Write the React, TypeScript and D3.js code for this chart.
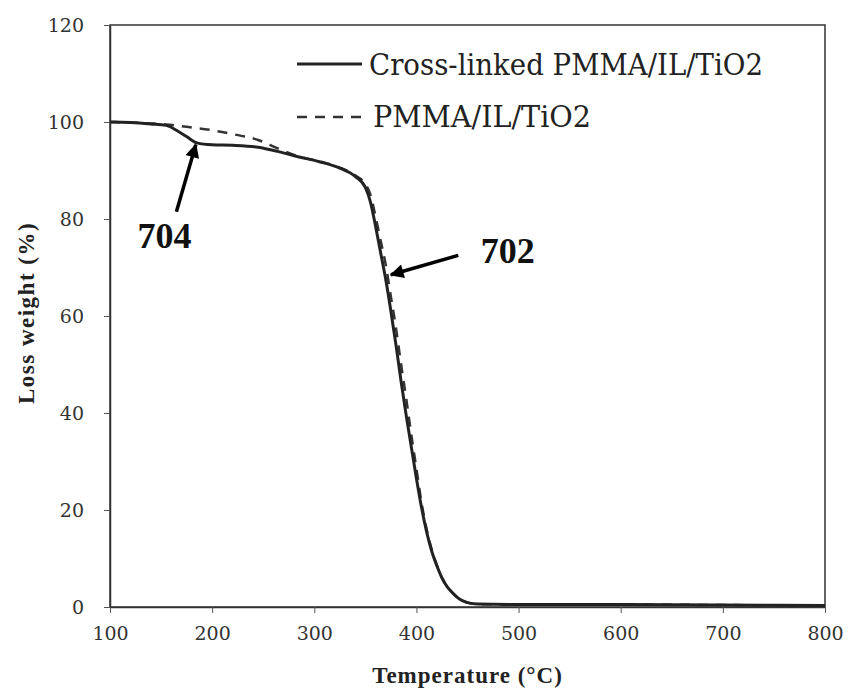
import React, { useEffect, useRef } from 'react';
import * as d3 from 'd3';

const xTicks = [100, 200, 300, 400, 500, 600, 700, 800];
const yTicks = [0, 20, 40, 60, 80, 100, 120];

// Cross-linked PMMA/IL/TiO2 (solid)
const crossTemp = [100, 120, 140, 155, 165, 175, 185, 200, 220, 245, 265, 285, 305, 325, 340, 350, 355, 360, 365, 370, 375, 380, 385, 390, 395, 400, 405, 410, 415, 420, 425, 430, 435, 440, 445, 450, 460, 500, 600, 700, 800];
const crossLoss = [100, 99.9, 99.6, 99.3, 98.3, 97, 95.7, 95.3, 95.2, 94.8, 93.9, 92.8, 91.8, 90.5, 88.8, 86.5, 83.5, 78.5, 73, 67.5, 61, 54, 46.5, 39.5, 33, 26.5, 20.5, 15.5, 11.5, 8.5, 6, 4.2, 3, 2, 1.3, 0.9, 0.6, 0.5, 0.5, 0.4, 0.3];

// PMMA/IL/TiO2 (dashed)
const plainTemp = [100, 120, 140, 155, 175, 200, 220, 245, 265, 285, 305, 325, 340, 350, 355, 360, 365, 370, 375, 380, 385, 390, 395, 400, 405, 410, 415, 420, 425, 430, 435, 440, 445, 450, 460, 500, 600, 700, 800];
const plainLoss = [100, 99.9, 99.7, 99.5, 99, 98.3, 97.5, 96.3, 94.5, 92.9, 91.9, 90.6, 89, 87.2, 85, 80.5, 75.5, 70.5, 64, 57.5, 50, 43, 35.5, 28.5, 21.5, 16, 11.8, 8.6, 6, 4.2, 3, 2, 1.3, 0.9, 0.6, 0.5, 0.5, 0.4, 0.3];

const seriesNames = ['Cross-linked PMMA/IL/TiO2', 'PMMA/IL/TiO2'];

// annotation labels: [label, textT, textV, tipT, tipV, tailT, tailV]
const notes: [string, number, number, number, number, number, number][] = [
  ['704', 127, 74, 184, 95.3, 165, 81.5],
  ['702', 463, 71, 375, 68.5, 441, 72.5],
];

const FONT = '"DejaVu Serif", serif';
const BOLD = '"Liberation Serif", "Times New Roman", serif';

const App: React.FC = () => {
  const ref = useRef<SVGSVGElement>(null);

  useEffect(() => {
    const width = 848;
    const height = 694;
    const margin = { left: 110, right: 23, top: 25, bottom: 87 };

    const svg = d3.select(ref.current);
    svg.selectAll('*').remove();
    svg.attr('width', width).attr('height', height);

    const x = d3.scaleLinear().domain([100, 800]).range([margin.left, width - margin.right]);
    const y = d3.scaleLinear().domain([0, 120]).range([height - margin.bottom, margin.top]);

    svg.append('rect').attr('width', width).attr('height', height).attr('fill', '#fff');

    const defs = svg.append('defs');
    defs.append('marker')
      .attr('id', 'arrowhead')
      .attr('viewBox', '0 0 10 10')
      .attr('refX', 9)
      .attr('refY', 5)
      .attr('markerWidth', 5)
      .attr('markerHeight', 4)
      .attr('markerUnits', 'strokeWidth')
      .attr('orient', 'auto')
      .append('path')
      .attr('d', 'M0,0 L10,5 L0,10 Z')
      .attr('fill', '#000');

    // frame
    svg.append('rect')
      .attr('x', x(100)).attr('y', y(120))
      .attr('width', x(800) - x(100)).attr('height', y(0) - y(120))
      .attr('fill', 'none').attr('stroke', '#333').attr('stroke-width', 1.5);

    const xAxis = svg.append('g')
      .attr('transform', `translate(0,${y(0)})`)
      .call(d3.axisBottom(x).tickValues(xTicks).tickSize(6).tickSizeOuter(0).tickPadding(14));
    xAxis.select('.domain').attr('stroke', '#333').attr('stroke-width', 1.5);
    xAxis.selectAll('line').attr('stroke', '#555');
    xAxis.selectAll('text').style('font-family', FONT).attr('font-size', 19).attr('fill', '#333');

    const yAxis = svg.append('g')
      .attr('transform', `translate(${x(100)},0)`)
      .call(d3.axisLeft(y).tickValues(yTicks).tickSize(6).tickSizeOuter(0).tickPadding(20));
    yAxis.select('.domain').attr('stroke', '#333').attr('stroke-width', 1.5);
    yAxis.selectAll('line').attr('stroke', '#555');
    yAxis.selectAll('text').style('font-family', FONT).attr('font-size', 19).attr('fill', '#333');

    const line = d3.line<[number, number]>()
      .x(d => x(d[0]))
      .y(d => y(d[1]))
      .curve(d3.curveMonotoneX);

    const plainData = plainTemp.map((t, i) => [t, plainLoss[i]] as [number, number]);
    const crossData = crossTemp.map((t, i) => [t, crossLoss[i]] as [number, number]);

    svg.append('path')
      .attr('d', line(plainData))
      .attr('fill', 'none')
      .attr('stroke', '#333')
      .attr('stroke-width', 2.5)
      .attr('stroke-dasharray', '10,8');

    svg.append('path')
      .attr('d', line(crossData))
      .attr('fill', 'none')
      .attr('stroke', '#222')
      .attr('stroke-width', 3);

    // legend
    const lg = svg.append('g');
    lg.append('line')
      .attr('x1', 297).attr('x2', 362).attr('y1', 64).attr('y2', 64)
      .attr('stroke', '#222').attr('stroke-width', 3);
    lg.append('line')
      .attr('x1', 297).attr('x2', 366).attr('y1', 117).attr('y2', 117)
      .attr('stroke', '#333').attr('stroke-width', 2.5).attr('stroke-dasharray', '10,8');
    lg.append('text')
      .attr('x', 369).attr('y', 75)
      .attr('textLength', 394).attr('lengthAdjust', 'spacingAndGlyphs')
      .style('font-family', FONT).attr('font-size', 30).attr('fill', '#222')
      .text(seriesNames[0]);
    lg.append('text')
      .attr('x', 373).attr('y', 127)
      .attr('textLength', 218).attr('lengthAdjust', 'spacingAndGlyphs')
      .style('font-family', FONT).attr('font-size', 30).attr('fill', '#222')
      .text(seriesNames[1]);

    // annotations
    notes.forEach(([label, tt, tv, pt, pv, st, sv]) => {
      svg.append('line')
        .attr('x1', x(st)).attr('y1', y(sv))
        .attr('x2', x(pt)).attr('y2', y(pv))
        .attr('stroke', '#000').attr('stroke-width', 3.5)
        .attr('marker-end', 'url(#arrowhead)');
      svg.append('text')
        .attr('x', x(tt)).attr('y', y(tv))
        .style('font-family', BOLD).attr('font-size', 36).attr('font-weight', 'bold')
        .attr('fill', '#111')
        .text(label);
    });

    // axis titles
    svg.append('text')
      .attr('x', (x(100) + x(800)) / 2)
      .attr('y', 683)
      .attr('text-anchor', 'middle')
      .style('font-family', BOLD).attr('font-size', 23).attr('font-weight', 'bold')
      .attr('letter-spacing', 1).attr('fill', '#222')
      .text('Temperature  (°C)');

    svg.append('text')
      .attr('transform', `translate(34,${313}) rotate(-90)`)
      .attr('text-anchor', 'middle')
      .style('font-family', BOLD).attr('font-size', 23).attr('font-weight', 'bold')
      .attr('letter-spacing', 1.5).attr('fill', '#222')
      .text('Loss weight (%)');
  }, []);

  return (
    <svg ref={ref} style={{ position: 'absolute', left: 0, top: 0, display: 'block' }}></svg>
  );
};

export default App;
